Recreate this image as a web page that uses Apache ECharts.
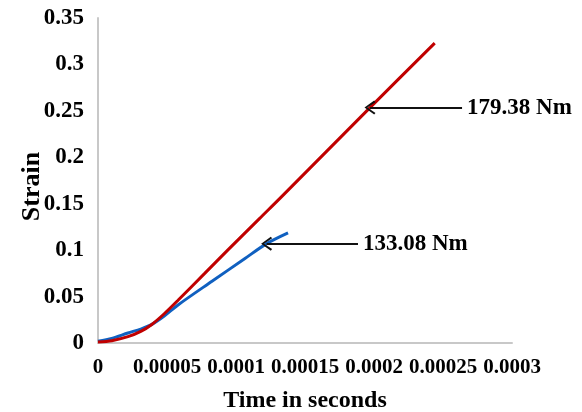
<!DOCTYPE html>
<html>
<head>
<meta charset="utf-8">
<script src="https://cdn.jsdelivr.net/npm/echarts@6/dist/echarts.min.js"></script>
<style>html,body{margin:0;padding:0;background:#fff;}#c{width:582px;height:412px;}</style>
</head>
<body>
<div id="c"></div>
<script>
var xTickLabels = ['0', '0.00005', '0.0001', '0.00015', '0.0002', '0.00025', '0.0003'];
var yTickLabels = ['0', '0.05', '0.1', '0.15', '0.2', '0.25', '0.3', '0.35'];

var timeRed   = [0, 0.00001, 0.0000217, 0.000031, 0.000039, 0.000048, 0.000058, 0.0000775, 0.000094, 0.000117, 0.000132, 0.0001971, 0.000244];
var strainRed = [0.001, 0.0025, 0.0068, 0.0125, 0.0200, 0.0315, 0.0460, 0.0752, 0.1000, 0.1340, 0.1560, 0.2535, 0.3230];

var timeBlue   = [0, 0.00001, 0.0000217, 0.000031, 0.000039, 0.000048, 0.000058, 0.0000826, 0.0001065, 0.0001222, 0.0001377];
var strainBlue = [0.002, 0.005, 0.0108, 0.0150, 0.0200, 0.0290, 0.0410, 0.0665, 0.0910, 0.1070, 0.1186];

var annRed  = { label: '179.38 Nm', t: 0.0001971, s: 0.2535, tEnd: 0.0002638 };
var annBlue = { label: '133.08 Nm', t: 0.0001222, s: 0.1070, tEnd: 0.0001884 };

function pairs(xs, ys) { return xs.map(function (x, i) { return [x, ys[i]]; }); }

var serif = '"Liberation Serif", "Times New Roman", serif';
var chevron = 'path://M5,0 L10,8.8 L8.8,10 L5,2.6 L1.2,10 L0,8.8 Z';

function annLine(a) {
  return {
    silent: true,
    animation: false,
    symbol: [chevron, 'none'],
    symbolSize: [14, 11],
    lineStyle: { color: '#111', width: 2, type: 'solid' },
    label: {
      show: true, position: 'end', distance: 5,
      formatter: a.label, color: '#000',
      fontFamily: serif, fontWeight: 'bold', fontSize: 23
    },
    data: [[{ coord: [a.t, a.s] }, { coord: [a.tEnd, a.s] }]]
  };
}

var chart = echarts.init(document.getElementById('c'), null, { renderer: 'canvas' });
chart.setOption({
  animation: false,
  backgroundColor: '#fff',
  grid: { left: 98, right: 70, top: 18, bottom: 69, containLabel: false, outerBoundsMode: 'none' },
  xAxis: {
    type: 'value', min: 0, max: 0.0003, interval: 0.00005,
    name: 'Time in seconds', nameLocation: 'middle', nameGap: 46, nameMoveOverlap: false,
    nameTextStyle: { fontFamily: serif, fontWeight: 'bold', fontSize: 24, color: '#000' },
    axisLine: { show: true, lineStyle: { color: '#c8c8c8', width: 2 } },
    axisTick: { show: false },
    splitLine: { show: false },
    axisLabel: {
      margin: 14, fontFamily: serif, fontWeight: 'bold', fontSize: 21, color: '#000',
      formatter: function (v) { return xTickLabels[Math.round(v / 0.00005)]; }
    }
  },
  yAxis: {
    type: 'value', min: 0, max: 0.35, interval: 0.05,
    name: 'Strain', nameLocation: 'middle', nameGap: 53, nameMoveOverlap: false,
    nameTextStyle: { fontFamily: serif, fontWeight: 'bold', fontSize: 26, color: '#000', padding: [0, 12, 0, 0] },
    axisLine: { show: true, lineStyle: { color: '#c8c8c8', width: 2 } },
    axisTick: { show: false },
    splitLine: { show: false },
    axisLabel: {
      margin: 14, fontFamily: serif, fontWeight: 'bold', fontSize: 23, color: '#000',
      formatter: function (v) { return yTickLabels[Math.round(v / 0.05)]; }
    }
  },
  series: [
    {
      type: 'line', name: '133.08 Nm', data: pairs(timeBlue, strainBlue),
      smooth: 0.3, showSymbol: false, symbol: 'none',
      lineStyle: { color: '#1060c0', width: 3 },
      markLine: annLine(annBlue)
    },
    {
      type: 'line', name: '179.38 Nm', data: pairs(timeRed, strainRed),
      smooth: 0.3, showSymbol: false, symbol: 'none',
      lineStyle: { color: '#c00000', width: 3 },
      markLine: annLine(annRed)
    }
  ]
});
</script>
</body>
</html>
